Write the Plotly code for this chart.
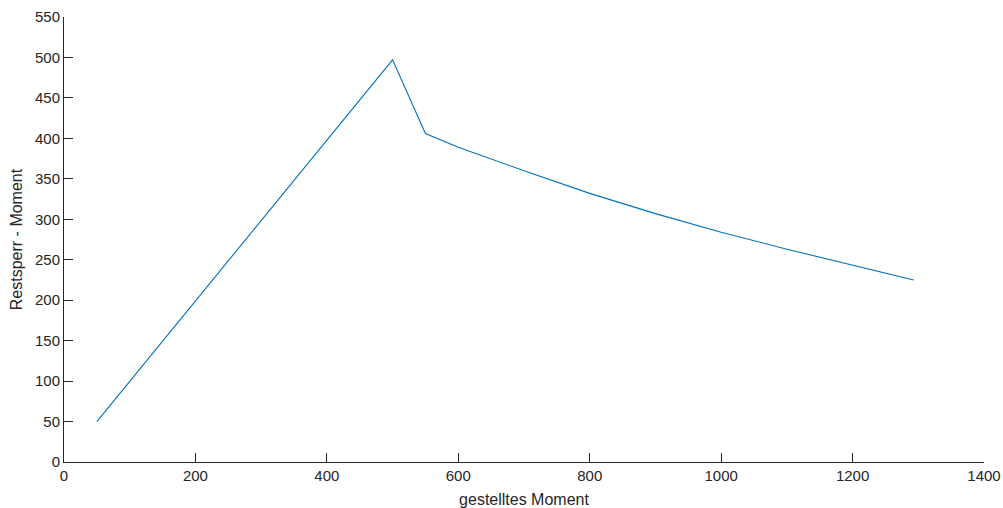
import plotly.graph_objects as go

# gestelltes Moment (x) und Restsperr-Moment (y)
gestellt = [50, 500, 550, 600, 700, 800, 900, 1000, 1100, 1200, 1293]
restsperr = [50, 497, 406, 389, 360, 332, 307, 284, 263, 243, 225]

x_ticks = [0, 200, 400, 600, 800, 1000, 1200, 1400]
y_ticks = [0, 50, 100, 150, 200, 250, 300, 350, 400, 450, 500, 550]

axis_col = "#262626"
font = dict(family="Liberation Sans, Arial, sans-serif", size=15, color=axis_col)
title_font = dict(family="Liberation Sans, Arial, sans-serif", size=16, color=axis_col)

fig = go.Figure()
fig.add_trace(go.Scatter(
    x=gestellt, y=restsperr, mode="lines",
    line=dict(color="#0072BD", width=1.1),
    showlegend=False, hoverinfo="x+y",
))

common = dict(
    showgrid=False, zeroline=False, showline=True, linecolor=axis_col, linewidth=1,
    ticks="inside", ticklen=9, tickwidth=1, tickcolor=axis_col,
    tickfont=font, mirror=False, automargin=False,
)

fig.update_layout(
    width=1003, height=508,
    margin=dict(l=64, r=19, t=17, b=46),
    paper_bgcolor="white", plot_bgcolor="white",
    font=font,
    xaxis=dict(range=[0, 1400], tickvals=x_ticks,
               title=dict(text="gestelltes Moment", font=title_font, standoff=12), **common),
    yaxis=dict(range=[0, 550], tickvals=y_ticks,
               title=dict(text="Restsperr - Moment", font=title_font, standoff=8), **common),
)

fig.write_html("out.html")
